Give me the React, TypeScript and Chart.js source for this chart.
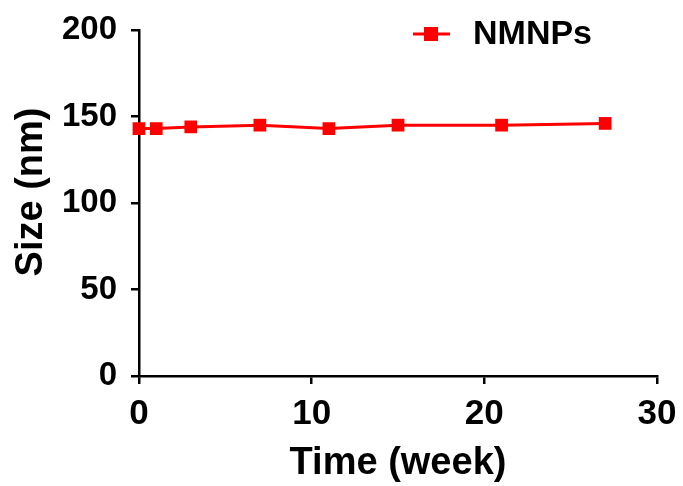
import React, { useEffect, useRef } from "react";
import { Chart, registerables } from "chart.js";

Chart.register(...registerables);

const weeks = [0, 1, 3, 7, 11, 15, 21, 27];
const sizes = [143, 143, 144, 145, 143, 145, 145, 146];
const seriesLabel = "NMNPs";
const xTitle = "Time (week)";
const yTitle = "Size (nm)";
const RED = "#ff0000";
const FONT = "'Liberation Sans', Arial, sans-serif";

const legendPlugin = {
  id: "customLegend",
  afterDraw(chart: any) {
    const ctx = chart.ctx;
    const y = 34;
    ctx.save();
    ctx.strokeStyle = RED;
    ctx.lineWidth = 3;
    ctx.beginPath();
    ctx.moveTo(413, y);
    ctx.lineTo(450, y);
    ctx.stroke();
    ctx.fillStyle = RED;
    ctx.fillRect(424, y - 7, 14, 14);
    ctx.fillStyle = "#000";
    ctx.font = `bold 34px ${FONT}`;
    ctx.textBaseline = "middle";
    ctx.textAlign = "left";
    ctx.fillText(chart.data.datasets[0].label, 473, y + 1);
    // y axis title
    ctx.translate(32, 192);
    ctx.rotate(-Math.PI / 2);
    ctx.font = `bold 38px ${FONT}`;
    ctx.textAlign = "center";
    ctx.fillText(yTitle, 0, 0);
    ctx.restore();
  },
};

export default function App() {
  const ref = useRef<HTMLCanvasElement>(null);
  useEffect(() => {
    if (!ref.current) return;
    const chart = new Chart(ref.current, {
      type: "line",
      data: {
        datasets: [
          {
            label: seriesLabel,
            data: weeks.map((w, i) => ({ x: w, y: sizes[i] })),
            borderColor: RED,
            backgroundColor: RED,
            borderWidth: 3,
            pointStyle: "rect",
            pointRadius: 9,
            pointBorderWidth: 0,
            pointBackgroundColor: RED,
            clip: false,
            tension: 0,
          } as any,
        ],
      },
      options: {
        responsive: false,
        animation: false,
        layout: { padding: { top: 30, right: 26, left: 0, bottom: 0 } },
        plugins: { legend: { display: false }, tooltip: { enabled: false } },
        scales: {
          x: {
            type: "linear",
            min: 0,
            max: 30,
            ticks: { stepSize: 10, color: "#000", font: { family: FONT, weight: "bold", size: 35 }, padding: 9 },
            grid: { drawOnChartArea: false, drawTicks: true, tickLength: 8, color: "#000", lineWidth: 2.5 },
            border: { color: "#000", width: 2.5 },
            title: { display: true, text: xTitle, color: "#000", font: { family: FONT, weight: "bold", size: 38 }, padding: { top: 0, bottom: 0 } },
            afterFit: (s: any) => { s.height = 110; s.paddingLeft = 0; s.paddingRight = 0; },
          },
          y: {
            min: 0,
            max: 200,
            ticks: { stepSize: 50, color: "#000", font: { family: FONT, weight: "bold", size: 33 }, padding: 14 },
            grid: { drawOnChartArea: false, drawTicks: true, tickLength: 8, color: "#000", lineWidth: 2.5 },
            border: { color: "#000", width: 2.5 },
            title: { display: false, text: yTitle },
            afterFit: (s: any) => { s.width = 139; s.paddingTop = 0; s.paddingBottom = 0; },
          },
        },
      } as any,
      plugins: [legendPlugin],
    });
    return () => chart.destroy();
  }, []);
  return (
    <div style={{ position: "absolute", left: 0, top: 0, width: 683, height: 486, background: "#fff" }}>
      <canvas ref={ref} width={683} height={486} />
    </div>
  );
}
